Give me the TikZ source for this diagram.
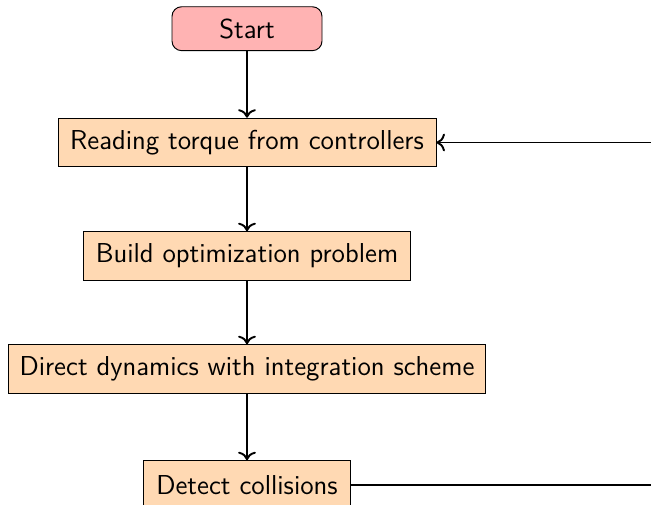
\documentclass[tikz,border=0pt]{standalone}
\usetikzlibrary{arrows.meta}
\definecolor{startfill}{HTML}{FFB3B3}
\definecolor{procfill}{HTML}{FFD9B3}
\begin{document}
\begin{tikzpicture}[x=0.41667pt,y=-0.41667pt,
  startbox/.style={draw=black, fill=startfill, rounded corners=4pt, minimum width=62.5pt, minimum height=18.3pt, inner sep=0pt, font=\sffamily\fontsize{11.4}{13}\selectfont},
  procbox/.style={draw=black, fill=procfill, minimum height=20.3pt, inner sep=0pt, font=\sffamily\fontsize{11.4}{13}\selectfont},
  flow/.style={thick, -{To[scale=1.05]}}]
\useasboundingbox (0,0) rectangle (651,504);
\node[startbox] (start) at (247,28.7) {Start};
\node[procbox, minimum width=157.5pt] (read) at (247,142.5) {Reading torque from controllers};
\node[procbox, minimum width=136.3pt] (build) at (247,256) {Build optimization problem};
\node[procbox, minimum width=199pt] (direct) at (247,369) {Direct dynamics with integration scheme};
\node[procbox, minimum width=86.3pt] (detect) at (247,485) {Detect collisions};
\coordinate (r1) at (651,142.5);
\coordinate (r2) at (651,485);
\draw[flow] (start) -- (read);
\draw[flow] (read) -- (build);
\draw[flow] (build) -- (direct);
\draw[flow] (direct) -- (detect);
\draw[thick] (detect.east) -- (r2);
\draw[flow] (r1) -- (read.east);
\end{tikzpicture}
\end{document}
